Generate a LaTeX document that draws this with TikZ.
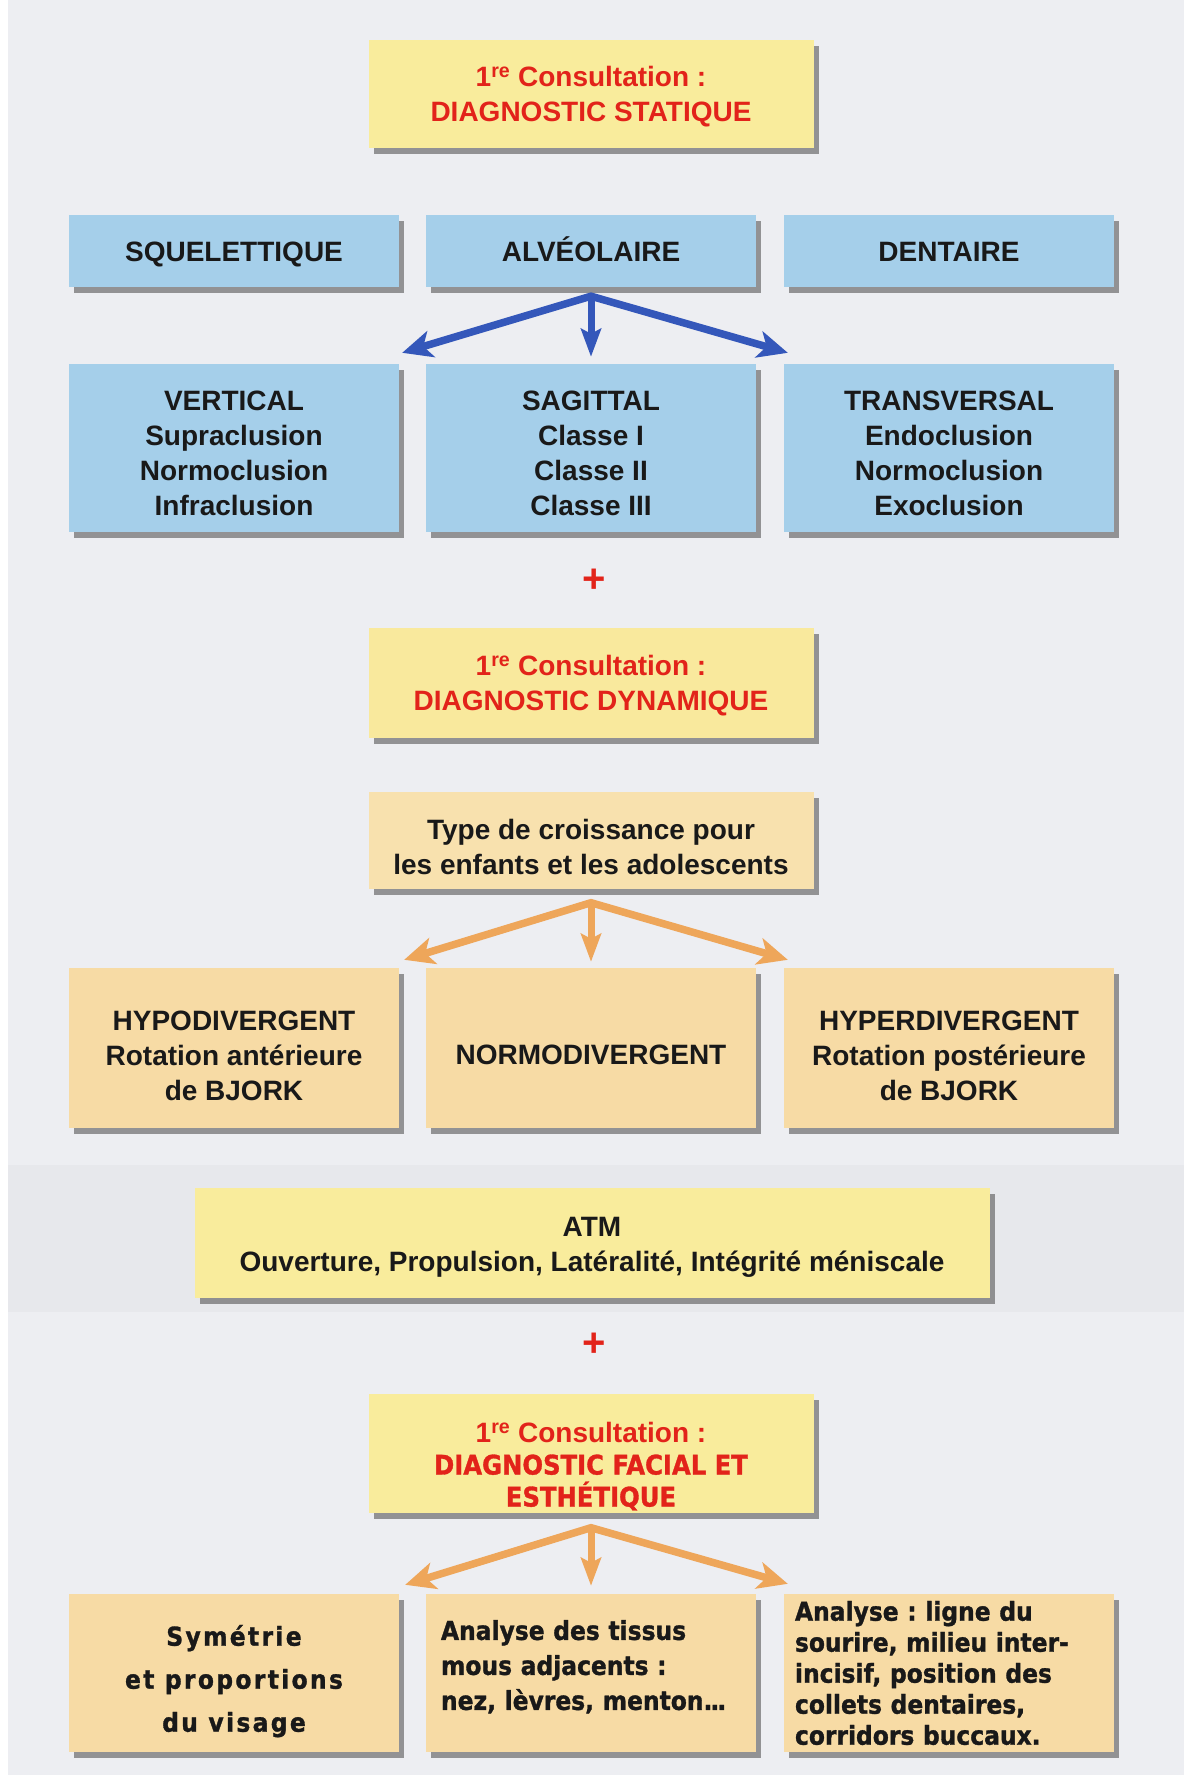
\documentclass[tikz,border=0pt]{standalone}
\usepackage{fontspec}
\setmainfont{Liberation Sans}
\newfontfamily\heavyfont[FakeStretch=0.9, BoldFeatures={FakeBold=1.2}]{DejaVu Sans}
\usetikzlibrary{arrows.meta,shadows}
\definecolor{bg}{HTML}{EDEEF2}
\definecolor{band}{HTML}{E7E8EC}
\definecolor{paleyellow}{HTML}{F9EC9C}
\definecolor{skyblue}{HTML}{A5CFEA}
\definecolor{peach}{HTML}{F7DBA5}
\definecolor{lightpeach}{HTML}{F8E1AE}
\definecolor{diagred}{HTML}{E2231A}
\definecolor{arrowblue}{HTML}{3457BA}
\definecolor{arroworange}{HTML}{EEA65A}
\frenchspacing

\begin{document}
\begin{tikzpicture}
  [x=1pt,y=-1pt]
      \tikzstyle{box_style} = [draw=none, inner sep=0pt, align=center,
        font=\fontsize{28}{35}\selectfont\bfseries, text=black!90,
        drop shadow={shadow xshift=5pt, shadow yshift=-6pt, fill=black!78}]
      \tikzstyle{title_style} = [box_style, fill=paleyellow, minimum width=445pt, text=diagred]
      \tikzstyle{blue_box} = [box_style, fill=skyblue, minimum width=330pt]
      \tikzstyle{peach_box} = [box_style, fill=peach, minimum width=330pt]
      \tikzstyle{heavy_box} = [peach_box, minimum height=158pt,
        font=\heavyfont\fontsize{26}{31}\selectfont\bfseries]
      \tikzstyle{one_line} = [text height=26pt, text depth=6pt]
      \tikzstyle{plus_style} = [text=diagred, font=\fontsize{40}{40}\selectfont\bfseries]
      \tikzstyle{blue_arrow} = [draw=arrowblue, line width=7.5pt, line join=miter]
      \tikzstyle{orange_arrow} = [draw=arroworange, line width=7.5pt, line join=miter]
      \tikzstyle{side_tips} = [{Stealth[length=30pt,width=27pt,inset=8pt]}-{Stealth[length=30pt,width=27pt,inset=8pt]}]
      \tikzstyle{mid_tip} = [line width=7pt, -{Stealth[length=28pt,width=20pt,inset=5pt]}]
  \useasboundingbox (0,0) rectangle (1184,1775);
  \fill[white] (0,0) rectangle (1184,1775);
  \fill[bg] (8,0) rectangle (1184,1775);
  \fill[band] (8,1165) rectangle (1184,1312);

  \node[title_style, minimum height=108pt] (n_stat) at (591,94) {\rule{0pt}{26pt}1\textsuperscript{re} Consultation :\\DIAGNOSTIC STATIQUE};

  \node[blue_box, one_line, minimum height=72pt] (n_sque) at (234,251) {SQUELETTIQUE};
  \node[blue_box, one_line, minimum height=72pt] (n_alv) at (591,251) {ALVÉOLAIRE};
  \node[blue_box, one_line, minimum height=72pt] (n_dent) at (949,251) {DENTAIRE};

  \node[blue_box, minimum height=168pt] (n_vert) at (234,448) {\rule{0pt}{31pt}VERTICAL\\Supraclusion\\Normoclusion\\Infraclusion};
  \node[blue_box, minimum height=168pt] (n_sag) at (591,448) {\rule{0pt}{31pt}SAGITTAL\\Classe I\\Classe II\\Classe III};
  \node[blue_box, minimum height=168pt] (n_trans) at (949,448) {\rule{0pt}{31pt}TRANSVERSAL\\Endoclusion\\Normoclusion\\Exoclusion};

  \coordinate (s1) at ([yshift=-9pt]n_alv.south);
  \draw[blue_arrow, side_tips] ([shift={(3,-11)}]n_vert.north east) -- (s1) -- ([shift={(4,-11)}]n_trans.north west);
  \draw[blue_arrow, mid_tip] (s1) -- ([yshift=7pt]n_sag.north);

  \node[plus_style] (p1) at (594,581) {+};

  \node[title_style, minimum height=110pt, fill=paleyellow!85!peach] (n_dyn) at (591,683) {\rule{0pt}{26pt}1\textsuperscript{re} Consultation :\\DIAGNOSTIC DYNAMIQUE};
  \node[box_style, fill=lightpeach, minimum width=445pt, minimum height=97pt] (n_type) at (591,840) {\rule{0pt}{35pt}Type de croissance pour\\les enfants et les adolescents};

  \node[peach_box, minimum height=160pt] (n_hypo) at (234,1048) {\rule{0pt}{35pt}HYPODIVERGENT\\Rotation antérieure\\de BJORK};
  \node[peach_box, minimum height=160pt] (n_normo) at (591,1048) {\rule{0pt}{33pt}NORMODIVERGENT};
  \node[peach_box, minimum height=160pt] (n_hyper) at (949,1048) {\rule{0pt}{35pt}HYPERDIVERGENT\\Rotation postérieure\\de BJORK};

  \coordinate (s2) at ([yshift=-14pt]n_type.south);
  \draw[orange_arrow, side_tips] ([shift={(5,-8)}]n_hypo.north east) -- (s2) -- ([shift={(4,-8)}]n_hyper.north west);
  \draw[orange_arrow, mid_tip] (s2) -- ([yshift=6pt]n_normo.north);

  \node[box_style, fill=paleyellow, minimum width=795pt, minimum height=110pt] (n_atm) at (592,1243) {\rule{0pt}{27pt}ATM\\Ouverture, Propulsion, Latéralité, Intégrité méniscale};

  \node[plus_style] (p2) at (594,1345) {+};

  \node[title_style, minimum height=119pt, font=\heavyfont\fontsize{27}{32}\selectfont\bfseries] (n_fac) at (591,1453) {{\fontspec{Liberation Sans}\fontsize{28}{32}\selectfont\bfseries\rule{0pt}{47pt}1\textsuperscript{re} Consultation :}\\DIAGNOSTIC FACIAL ET\\ESTHÉTIQUE};

  \node[heavy_box, font=\heavyfont\fontsize{26}{43}\selectfont\bfseries\addfontfeature{LetterSpace=9}] (n_sym) at (234,1673) {\rule{0pt}{37pt}Symétrie\\et proportions\\du visage};
  \node[heavy_box, font=\heavyfont\fontsize{26}{35}\selectfont\bfseries, align=left, text width=300pt, inner xsep=15pt] (n_tis) at (591,1673) {Analyse des tissus\\mous adjacents :\\nez, lèvres, menton.\kern-2pt.\kern-2pt.\rule[-16pt]{0pt}{0pt}};
  \node[heavy_box, align=left, text width=308pt, inner xsep=11pt] (n_sour) at (949,1673) {Analyse : ligne du\\sourire, milieu inter-\\incisif, position des\\collets dentaires,\\corridors buccaux.};

  \coordinate (s3) at ([yshift=-15pt]n_fac.south);
  \draw[orange_arrow, side_tips] ([shift={(6,-9)}]n_sym.north east) -- (s3) -- ([shift={(4,-10)}]n_sour.north west);
  \draw[orange_arrow, mid_tip] (s3) -- ([yshift=8pt]n_tis.north);
\end{tikzpicture}
\end{document}
